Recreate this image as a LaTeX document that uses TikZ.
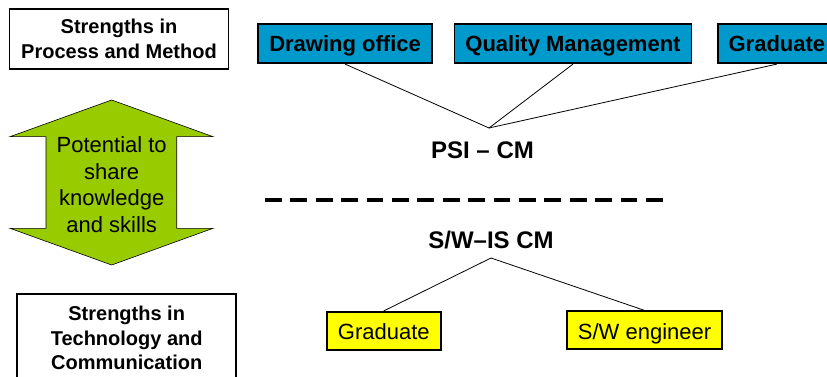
\documentclass[tikz,border=0pt]{standalone}
\usepackage{fontspec}
\setmainfont{Liberation Sans}
\usepackage{tikz}
\usetikzlibrary{positioning,calc}
\usepackage{xcolor}
\definecolor{boxblue}{RGB}{0,153,204}
\definecolor{arrowgreen}{RGB}{153,204,0}
\definecolor{boxyellow}{RGB}{255,255,0}

\begin{document}
\begin{tikzpicture}[x=1pt,y=-1pt,
  strengthbox/.style={draw,line width=1.6pt,align=center,font=\fontsize{20}{24.5}\selectfont\bfseries,minimum width=219pt},
  bluebox/.style={draw,line width=1.8pt,fill=boxblue,font=\fontsize{22}{26}\selectfont\bfseries,minimum height=39pt,inner xsep=11pt,text height=17pt,text depth=1pt,anchor=west},
  yellowbox/.style={draw,line width=1.8pt,fill=boxyellow,font=\fontsize{22}{26}\selectfont,minimum height=38pt,inner xsep=11pt,text height=18pt,text depth=0pt,anchor=west},
  cmlabel/.style={font=\fontsize{24}{28}\selectfont\bfseries,anchor=base},
  link/.style={line width=0.8pt}]
\useasboundingbox (0,0) rectangle (827,377);

% strengths on the left
\node[strengthbox,minimum height=60pt] (procbox) at (119,39) {Strengths in\\Process and Method};
\node[strengthbox,minimum height=88pt] (techbox) at (126.7,338) {Strengths in\\Technology and\\Communication};

% green double arrow
\fill[arrowgreen,draw=black,line width=0.6pt] (111.7,100) -- (213,136.7) -- (176.7,136.7) -- (176.7,228.3) -- (213,228.3) -- (111.7,265) -- (10,228.3) -- (46,228.3) -- (46,136.7) -- (10,136.7) -- cycle;
\node[align=center,font=\fontsize{22}{26.7}\selectfont] (share) at (111.7,184.5) {Potential to\\share\\knowledge\\and skills};

% PSI tree
\node[bluebox] (drawing) at (257.4,43.7) {Drawing office};
\node[bluebox] (quality) at (453.5,43.7) {Quality Management};
\node[bluebox] (gradtop) at (716.7,43.7) {Graduate};
\coordinate (topjoin) at (489,128);
\foreach \n in {drawing,quality,gradtop} \draw[link] (\n.south) -- (topjoin);
\node[cmlabel] (psi) at (482.5,158) {PSI – CM};

% divider
\draw[line width=4pt,dash pattern=on 16.7pt off 8.7pt] (265,200) -- (663,200);

% S/W tree
\node[cmlabel] (swis) at (491,248) {S/W–IS CM};
\coordinate (botjoin) at (491,258);
\node[yellowbox] (gradbot) at (326,330.8) {Graduate};
\node[yellowbox] (engineer) at (566,330.3) {S/W engineer};
\foreach \n in {gradbot,engineer} \draw[link] (botjoin) -- (\n.north);
\end{tikzpicture}
\end{document}
